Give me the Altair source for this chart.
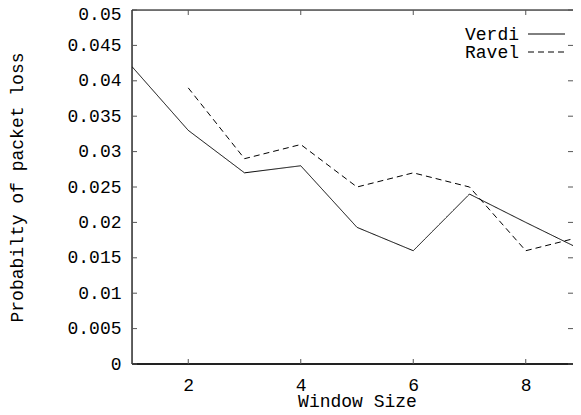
import altair as alt
import pandas as pd

window = [1, 2, 3, 4, 5, 6, 7, 8, 9]
verdi = [0.042, 0.033, 0.027, 0.028, 0.0193, 0.016, 0.024, 0.020, 0.0161]
ravel_window = [2, 3, 4, 5, 6, 7, 8, 9]
ravel = [0.039, 0.029, 0.031, 0.025, 0.027, 0.025, 0.016, 0.018]
series_names = ["Verdi", "Ravel"]

x_ticks = [2, 4, 6, 8]
y_ticks = [0, 0.005, 0.01, 0.015, 0.02, 0.025, 0.03, 0.035, 0.04, 0.045, 0.05]

FULL_W = 450   # full x range (1..9); right part falls off the page as in the reference
W, H = 441, 354
FONT = "Liberation Mono"
FS = 18

df = pd.concat([
    pd.DataFrame({"x": window, "y": verdi, "series": series_names[0]}),
    pd.DataFrame({"x": ravel_window, "y": ravel, "series": series_names[1]}),
])

xs = alt.Scale(domain=[1, 9], range=[0, FULL_W], nice=False, zero=False)
ys = alt.Scale(domain=[0, 0.05], nice=False)

xaxis = alt.Axis(values=x_ticks, format="d", tickSize=0, domain=False, grid=False,
                 labelPadding=12, labelOverlap=False, labelFlush=False,
                 title="Window Size", titleX=FULL_W / 2, titleY=42,
                 titleBaseline="alphabetic", titleAlign="center",
                 labelFont=FONT, titleFont=FONT, labelFontSize=FS, titleFontSize=FS,
                 titleFontWeight="normal", labelColor="black", titleColor="black")
yaxis = alt.Axis(values=y_ticks, format="~g", tickSize=0, domain=False, grid=False,
                 labelPadding=11, labelOverlap=False, labelFlush=False,
                 labelOffset={"condition": {"test": "datum.value >= 0.05", "value": 4}, "value": 0},
                 title="Probabilty of packet loss", titleX=-115, titleY=H / 2,
                 titleAngle=-90, titleBaseline="middle", titleAlign="center",
                 labelFont=FONT, titleFont=FONT, labelFontSize=FS, titleFontSize=FS,
                 titleFontWeight="normal", labelColor="black", titleColor="black")

X = lambda f: alt.X(f, type="quantitative", scale=xs, axis=xaxis)
Y = lambda f: alt.Y(f, type="quantitative", scale=ys, axis=yaxis)

lines = alt.Chart(df).mark_line(color="black", strokeWidth=1, clip=True).encode(
    x=X("x"),
    y=Y("y"),
    strokeDash=alt.StrokeDash("series:N",
                              scale=alt.Scale(domain=series_names, range=[[1, 0], [6, 4]]),
                              legend=None),
    detail="series:N",
)

one = pd.DataFrame({"a": [0]})
border_top = alt.Chart(one).mark_rule(color="black", strokeWidth=1.2).encode(
    x=alt.value(0), x2=alt.value(W), y=alt.value(0))
border_left = alt.Chart(one).mark_rule(color="black", strokeWidth=1.2).encode(
    x=alt.value(0), y=alt.value(0), y2=alt.value(H))
border_bottom = alt.Chart(one).mark_rule(color="#222", strokeWidth=2).encode(
    x=alt.value(0), x2=alt.value(W), y=alt.value(H))

yt = pd.DataFrame({"y": y_ticks})
xt = pd.DataFrame({"x": x_ticks})
tick_style = dict(color="#555", strokeWidth=1)
yl = alt.Chart(yt).mark_rule(**tick_style).encode(
    y=Y("y"), x=alt.value(0), x2=alt.value(5))
yr = alt.Chart(yt).mark_rule(**tick_style).encode(
    y=Y("y"), x=alt.value(W - 5), x2=alt.value(W))
xb = alt.Chart(xt).mark_rule(**tick_style).encode(
    x=X("x"), y=alt.value(H), y2=alt.value(H - 5))
xtp = alt.Chart(xt).mark_rule(**tick_style).encode(
    x=X("x"), y=alt.value(0), y2=alt.value(5))

text_style = dict(align="right", baseline="middle", font=FONT, fontSize=FS, color="black")
leg_text1 = alt.Chart(pd.DataFrame({"name": [series_names[0]]})).mark_text(**text_style).encode(
    text="name:N", x=alt.value(387), y=alt.value(25))
leg_text2 = alt.Chart(pd.DataFrame({"name": [series_names[1]]})).mark_text(**text_style).encode(
    text="name:N", x=alt.value(387), y=alt.value(43))
leg_l1 = alt.Chart(pd.DataFrame({"name": [series_names[0]]})).mark_rule(
    color="black", strokeWidth=1).encode(x=alt.value(396), x2=alt.value(433), y=alt.value(24))
leg_l2 = alt.Chart(pd.DataFrame({"name": [series_names[1]]})).mark_rule(
    color="black", strokeWidth=1, strokeDash=[6, 4]).encode(
    x=alt.value(396), x2=alt.value(433), y=alt.value(42))

chart = alt.layer(
    lines, border_top, border_left, border_bottom, yl, yr, xb, xtp,
    leg_text1, leg_text2, leg_l1, leg_l2,
).properties(
    width=W, height=H,
    autosize=alt.AutoSizeParams(type="none"),
    padding={"left": 124, "top": 2, "right": 0, "bottom": 43},
).configure_view(stroke=None).configure(background="white")

chart.save("out.html", embed_options={"renderer": "svg", "actions": False})
